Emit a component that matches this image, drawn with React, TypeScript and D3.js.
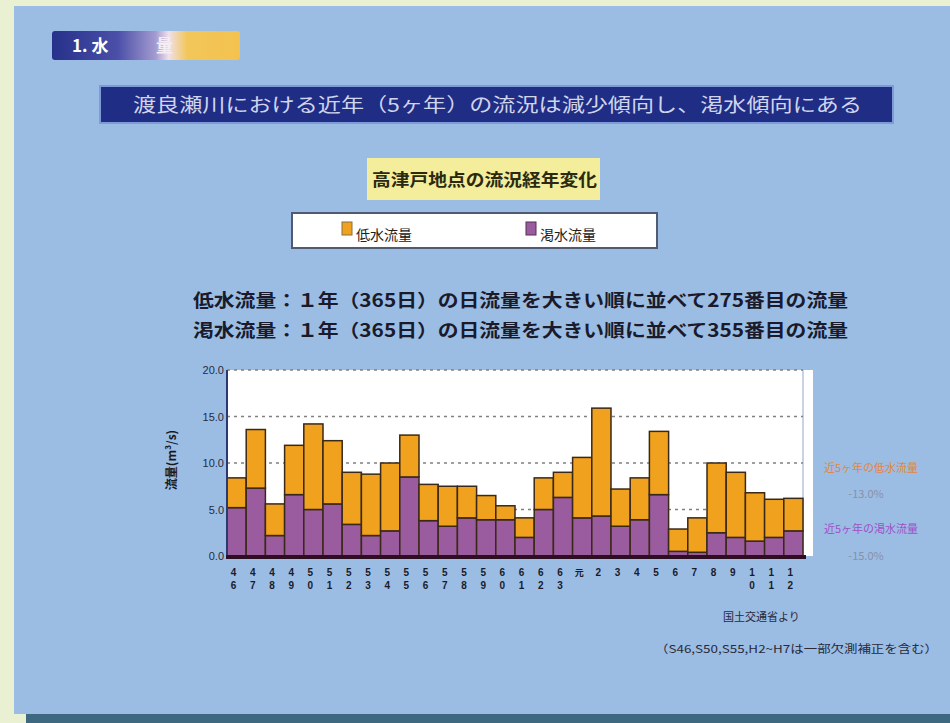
import React from "react";
import * as d3 from "d3";

const years = [
  "46","47","48","49","50","51","52","53","54","55","56","57","58","59","60","61","62","63",
  "元","2","3","4","5","6","7","8","9","10","11","12",
];
const lowFlow = [8.4,13.6,5.6,11.9,14.2,12.4,9.0,8.8,10.0,13.0,7.7,7.5,7.5,6.5,5.4,4.1,8.4,9.0,10.6,15.9,7.2,8.4,13.4,2.9,4.1,10.0,9.0,6.8,6.1,6.2];
const droughtFlow = [5.2,7.3,2.2,6.6,5.0,5.6,3.4,2.2,2.7,8.5,3.8,3.2,4.1,3.9,3.9,2.0,5.0,6.3,4.1,4.3,3.2,3.9,6.6,0.5,0.4,2.5,2.0,1.6,2.0,2.7];
const yTicks = [0, 5, 10, 15, 20];
const legendLabels = ["低水流量", "渇水流量"];

const JP = "'Noto Sans CJK JP', 'Noto Sans', sans-serif";
const LAT = "'Liberation Sans', Arial, sans-serif";

export default function App() {
  const x = d3.scaleBand<string>().domain(years).range([227, 803]).padding(0);
  const y = d3.scaleLinear().domain([0, 20]).range([556, 370]);
  const orange = "#f0a21e";
  const purple = "#9a5c9e";
  const edge = "#3a2818";

  return (
    <svg width={950} height={723} style={{ position: "absolute", left: 0, top: 0 }}>
      <defs>
        <linearGradient id="tbox" x1="0" x2="1" y1="0" y2="0">
          <stop offset="0" stopColor="#25318a" />
          <stop offset="0.35" stopColor="#4b4fa8" />
          <stop offset="0.55" stopColor="#a39ad0" />
          <stop offset="0.62" stopColor="#f0e0ea" />
          <stop offset="0.72" stopColor="#f2c65a" />
          <stop offset="1" stopColor="#f4c24e" />
        </linearGradient>
      </defs>
      <rect x={0} y={0} width={950} height={723} fill="#e9f1d2" />
      <rect x={14} y={6} width={936} height={708} fill="#9bbde4" />
      <rect x={26} y={714} width={924} height={9} fill="#3d6880" />

      {/* section label */}
      <rect x={52} y={31} width={188} height={29} rx={3} fill="url(#tbox)" />
      <text x={72} y={52} fontFamily={JP} fontSize={17} fontWeight="bold" fill="#ffffff">1. 水</text>
      <text x={156} y={52} fontFamily={JP} fontSize={17} fontWeight="bold" fill="#f4eef4">量</text>

      {/* heading bar */}
      <rect x={100} y={86} width={793} height={37} fill="#1f2d85" stroke="#7f9ad8" strokeWidth={2} />
      <text x={133} y={112} fontFamily={JP} fontSize={19} fill="#d0d4ec" textLength={729} lengthAdjust="spacingAndGlyphs">
        渡良瀬川における近年（5ヶ年）の流況は減少傾向し、渇水傾向にある
      </text>

      {/* chart title */}
      <rect x={367} y={158} width={233} height={42} fill="#f3ed9c" />
      <text x={372} y={186} fontFamily={JP} fontSize={17} fontWeight="bold" fill="#2a2a10" textLength={225} lengthAdjust="spacingAndGlyphs">
        高津戸地点の流況経年変化
      </text>

      {/* legend */}
      <rect x={292} y={213} width={365} height={35} fill="#ffffff" stroke="#505a70" strokeWidth={2} />
      <rect x={342} y={222} width={10} height={13} fill={orange} stroke="#8a7040" strokeWidth={1} />
      <text x={356} y={240} fontFamily={JP} fontSize={14} fill="#202020">{legendLabels[0]}</text>
      <rect x={526} y={222} width={10} height={13} fill={purple} stroke="#503050" strokeWidth={1} />
      <text x={540} y={240} fontFamily={JP} fontSize={14} fill="#202020">{legendLabels[1]}</text>

      {/* definitions */}
      <text x={193} y={307} fontFamily={JP} fontSize={18} fontWeight="bold" fill="#1a1a2a" textLength={655} lengthAdjust="spacingAndGlyphs">
        低水流量：１年（365日）の日流量を大きい順に並べて275番目の流量
      </text>
      <text x={193} y={337} fontFamily={JP} fontSize={18} fontWeight="bold" fill="#1a1a2a" textLength={655} lengthAdjust="spacingAndGlyphs">
        渇水流量：１年（365日）の日流量を大きい順に並べて355番目の流量
      </text>

      {/* plot area */}
      <rect x={227} y={370} width={586} height={186} fill="#ffffff" />
      <line x1={803} x2={803} y1={370} y2={556} stroke="#c8d4e4" strokeWidth={2} />
      {yTicks.filter((t) => t > 0).map((t) => (
        <line key={t} x1={227} x2={803} y1={y(t)} y2={y(t)} stroke="#808080" strokeWidth={1.5} strokeDasharray="3,4" />
      ))}
      {years.map((yr, i) => (
        <g key={yr}>
          <rect x={x(yr)!} y={y(droughtFlow[i])} width={x.bandwidth()} height={y(0) - y(droughtFlow[i])} fill={purple} stroke={edge} strokeWidth={1.5} />
          <rect x={x(yr)!} y={y(lowFlow[i])} width={x.bandwidth()} height={y(droughtFlow[i]) - y(lowFlow[i])} fill={orange} stroke={edge} strokeWidth={1.5} />
        </g>
      ))}
      <line x1={227} x2={227} y1={370} y2={558} stroke="#2a3a70" strokeWidth={2} />
      <line x1={226} x2={806} y1={557} y2={557} stroke="#2e0e22" strokeWidth={4} />

      {yTicks.map((t) => (
        <text key={t} x={224} y={y(t) + 4} textAnchor="end" fontFamily={LAT} fontSize={11} fill="#2a2a3a">
          {t.toFixed(1)}
        </text>
      ))}
      <text transform="translate(176,460) rotate(-90)" textAnchor="middle" fontFamily={JP} fontSize={12} fontWeight="bold" fill="#1a1a1a">
        流量(m³/s)
      </text>

      {/* x labels vertical, one text per character */}
      {years.map((yr) =>
        yr.split("").map((c, j) => (
          <text key={yr + "-" + j} x={x(yr)! + x.bandwidth() / 2 - 3} y={576 + j * 13} fontFamily={c === "元" ? JP : LAT} fontSize={c === "元" ? 9 : 10} fontWeight="bold" fill="#1a1a2a" textAnchor="middle">
            {c}
          </text>
        ))
      )}

      {/* right annotations */}
      <text x={871} y={472} textAnchor="middle" fontFamily={JP} fontSize={11} fill="#e0883a">近5ヶ年の低水流量</text>
      <text x={866} y={498} textAnchor="middle" fontFamily={JP} fontSize={11} fill="#8890a8">-13.0%</text>
      <text x={871} y={533} textAnchor="middle" fontFamily={JP} fontSize={11} fill="#a050c8">近5ヶ年の渇水流量</text>
      <text x={866} y={560} textAnchor="middle" fontFamily={JP} fontSize={11} fill="#8890a8">-15.0%</text>

      {/* source */}
      <text x={723} y={621} fontFamily={JP} fontSize={11} fill="#2a2a3a">国土交通省より</text>
      <text x={655} y={653} fontFamily={JP} fontSize={11} fill="#2a2a3a" textLength={283} lengthAdjust="spacingAndGlyphs">
        （S46,S50,S55,H2~H7は一部欠測補正を含む）
      </text>
    </svg>
  );
}
